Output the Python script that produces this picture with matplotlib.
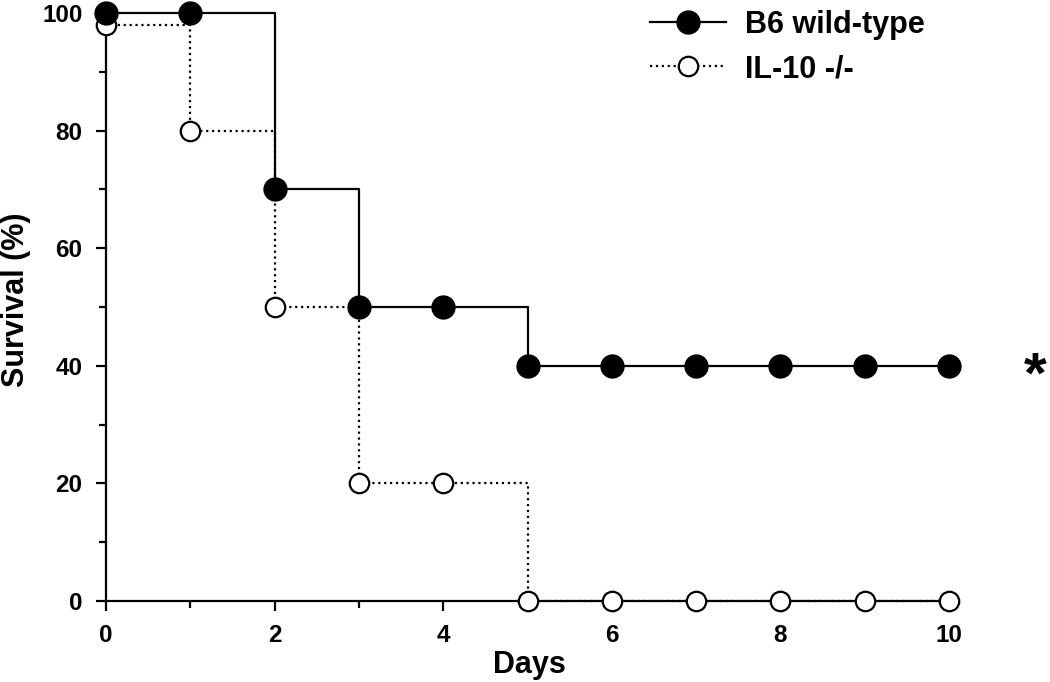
import matplotlib
matplotlib.use("Agg")
import matplotlib.pyplot as plt
from matplotlib.ticker import MultipleLocator

days = [0, 1, 2, 3, 4, 5, 6, 7, 8, 9, 10]
wt_survival = [100, 100, 70, 50, 50, 40, 40, 40, 40, 40, 40]
ko_survival = [98, 80, 50, 20, 20, 0, 0, 0, 0, 0, 0]
wt_label = "B6 wild-type"
ko_label = "IL-10 -/-"

plt.rcParams['font.family'] = ['Liberation Sans', 'DejaVu Sans']
plt.rcParams['font.weight'] = 'bold'

W, H = 1050, 682
fig = plt.figure(figsize=(W / 100, H / 100), dpi=100)
ax = fig.add_axes([106 / W, 1 - 601 / H, 843 / W, 588 / H])

LW = 1.6
ax.plot(days, ko_survival, drawstyle='steps-post', linestyle=':', color='black',
        linewidth=LW, zorder=2, clip_on=False)
ax.plot(days, ko_survival, linestyle='none', marker='o', markersize=14,
        markerfacecolor='white', markeredgecolor='black', markeredgewidth=1.6,
        zorder=4, clip_on=False)
ax.plot(days, wt_survival, drawstyle='steps-post', linestyle='-', color='black',
        linewidth=LW, zorder=3, clip_on=False)
ax.plot(days, wt_survival, linestyle='none', marker='o', markersize=16.5,
        markerfacecolor='black', markeredgecolor='black', zorder=5, clip_on=False)

# legend proxies
h1, = ax.plot([], [], linestyle='-', color='black', linewidth=LW, marker='o',
              markersize=16.5, markerfacecolor='black')
h2, = ax.plot([], [], linestyle=':', color='black', linewidth=LW, marker='o',
              markersize=14, markerfacecolor='white', markeredgewidth=1.6)
fig.legend([h1, h2], [wt_label, ko_label], loc='upper left',
           bbox_to_anchor=(650 / W, 1 - 10 / H), frameon=False,
           borderpad=0, borderaxespad=0,
           handlelength=2.5, handletextpad=0.62, labelspacing=0.46,
           prop={'weight': 'bold', 'size': 22})

ax.set_xlim(0, 10)
ax.set_ylim(0, 100)
ax.xaxis.set_major_locator(MultipleLocator(2))
ax.xaxis.set_minor_locator(MultipleLocator(1))
ax.yaxis.set_major_locator(MultipleLocator(20))
ax.yaxis.set_minor_locator(MultipleLocator(10))
ax.tick_params(which='major', direction='out', length=7.5, width=1.6, labelsize=17.5)
ax.tick_params(axis='x', which='major', pad=9)
ax.tick_params(axis='y', which='major', pad=9.5)
ax.tick_params(which='minor', direction='out', length=5, width=1.6)
for s in ['top', 'right']:
    ax.spines[s].set_visible(False)
for s in ['left', 'bottom']:
    ax.spines[s].set_linewidth(1.6)

ax.set_xlabel("Days", fontsize=22, fontweight='bold')
ax.xaxis.label.set_va('baseline')
ax.xaxis.set_label_coords((529 - 106) / 843, -(673 - 601) / 588)
ax.set_ylabel("Survival (%)", fontsize=22, fontweight='bold')
ax.yaxis.label.set_va('center')
ax.yaxis.set_label_coords((16 - 106) / 843, (601 - 300) / 588)

fig.text(1035 / W, 1 - 393 / H, "*", fontsize=42, fontweight='bold',
         ha='center', va='baseline')

fig.savefig("out.png", dpi=100)
